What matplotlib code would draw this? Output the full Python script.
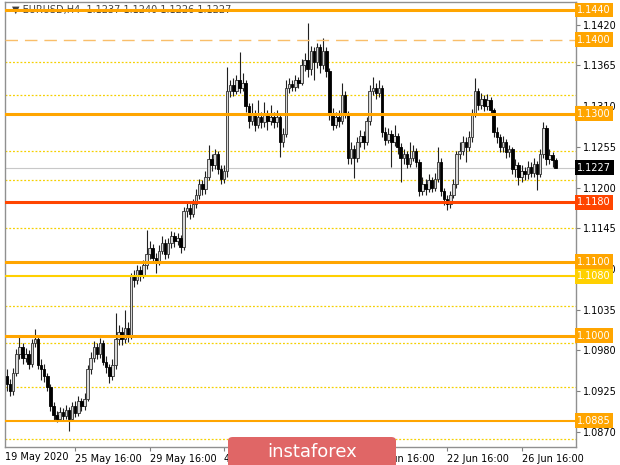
import numpy as np
import matplotlib.pyplot as plt
from matplotlib.patches import FancyBboxPatch

# EURUSD H4 candles
closes = [
    1.0935, 1.0925, 1.0950, 1.0975, 1.0985, 1.0970, 1.0975, 1.0962, 1.0990, 1.0995,
    1.0960, 1.0955, 1.0945, 1.0930, 1.0905, 1.0893, 1.0888, 1.0897, 1.0892, 1.0900,
    1.0888, 1.0905, 1.0895, 1.0912, 1.0905, 1.0915, 1.0955, 1.0970, 1.0985, 1.0975,
    1.0990, 1.0965, 1.0958, 1.0945, 1.0960, 1.0995, 1.1005, 1.0995, 1.1010, 1.1000,
    1.1080, 1.1075, 1.1088, 1.1082, 1.1095, 1.1110, 1.1118, 1.1105, 1.1100, 1.1115,
    1.1125, 1.1110, 1.1125, 1.1135, 1.1128, 1.1132, 1.1120, 1.1168, 1.1172, 1.1165,
    1.1178, 1.1190, 1.1205, 1.1198, 1.1215, 1.1238, 1.1230, 1.1245, 1.1225, 1.1212,
    1.1222, 1.1330, 1.1338, 1.1330, 1.1345, 1.1335, 1.1342, 1.1310, 1.1290, 1.1300,
    1.1285, 1.1295, 1.1288, 1.1298, 1.1290, 1.1296, 1.1288, 1.1295, 1.1262, 1.1272,
    1.1335, 1.1340, 1.1336, 1.1345, 1.1342, 1.1365, 1.1372, 1.1360, 1.1385, 1.1370,
    1.1390, 1.1365, 1.1385, 1.1358, 1.1300, 1.1285, 1.1295, 1.1290, 1.1325, 1.1300,
    1.1240, 1.1252, 1.1240, 1.1262, 1.1270, 1.1262, 1.1290, 1.1330, 1.1335, 1.1328,
    1.1335, 1.1275, 1.1265, 1.1272, 1.1262, 1.1270, 1.1255, 1.1240, 1.1245, 1.1232,
    1.1240, 1.1250, 1.1235, 1.1195, 1.1205, 1.1198, 1.1210, 1.1200, 1.1212, 1.1235,
    1.1195, 1.1185, 1.1178, 1.1190, 1.1205, 1.1245, 1.1250, 1.1262, 1.1255, 1.1268,
    1.1300, 1.1330, 1.1312, 1.1320, 1.1310, 1.1318, 1.1305, 1.1275, 1.1268, 1.1255,
    1.1262, 1.1248, 1.1252, 1.1225, 1.1230, 1.1215, 1.1222, 1.1218, 1.1228, 1.1220,
    1.1232, 1.1218, 1.1245, 1.1280, 1.1238, 1.1244, 1.1237, 1.1227]
opens = [1.0945] + closes[:-1]
highs = [
    1.0955, 1.0942, 1.0956, 1.0982, 1.0998, 1.0990, 1.0983, 1.0980, 1.0996, 1.1009,
    1.0999, 1.0968, 1.0962, 1.0950, 1.0934, 1.0910, 1.0898, 1.0904, 1.0902, 1.0906,
    1.0904, 1.0910, 1.0912, 1.0918, 1.0916, 1.0922, 1.0960, 1.0978, 1.0993, 1.0990,
    1.0997, 1.0994, 1.0972, 1.0962, 1.0968, 1.1031, 1.1015, 1.1012, 1.1035, 1.1018,
    1.1085, 1.1088, 1.1095, 1.1094, 1.1102, 1.1143, 1.1128, 1.1124, 1.1112, 1.1122,
    1.1134, 1.1130, 1.1132, 1.1142, 1.1140, 1.1138, 1.1136, 1.1174, 1.1180, 1.1178,
    1.1184, 1.1198, 1.1212, 1.1210, 1.1222, 1.1258, 1.1245, 1.1252, 1.1250, 1.1230,
    1.1230, 1.1363, 1.1345, 1.1348, 1.1352, 1.1383, 1.1355, 1.1346, 1.1314, 1.1315,
    1.1305, 1.1318, 1.1302, 1.1316, 1.1305, 1.1312, 1.1302, 1.1305, 1.1300, 1.1280,
    1.1345, 1.1348, 1.1346, 1.1352, 1.1350, 1.1374, 1.1382, 1.1422, 1.1392, 1.1390,
    1.1396, 1.1394, 1.1402, 1.1390, 1.1362, 1.1308, 1.1302, 1.1305, 1.1341, 1.1330,
    1.1304, 1.1262, 1.1258, 1.1268, 1.1278, 1.1276, 1.1296, 1.1338, 1.1350, 1.1342,
    1.1345, 1.1338, 1.1282, 1.1280, 1.1278, 1.1284, 1.1274, 1.1260, 1.1252, 1.1250,
    1.1262, 1.1258, 1.1254, 1.1238, 1.1214, 1.1212, 1.1218, 1.1215, 1.1220, 1.1255,
    1.1240, 1.1200, 1.1190, 1.1196, 1.1212, 1.1250, 1.1262, 1.1270, 1.1268, 1.1276,
    1.1306, 1.1348, 1.1335, 1.1328, 1.1325, 1.1326, 1.1322, 1.1308, 1.1282, 1.1272,
    1.1270, 1.1266, 1.1258, 1.1255, 1.1238, 1.1234, 1.1230, 1.1228, 1.1236, 1.1234,
    1.1240, 1.1236, 1.1252, 1.1288, 1.1284, 1.1252, 1.1248, 1.1240]
lows = [
    1.0925, 1.0918, 1.0920, 1.0945, 1.0968, 1.0962, 1.0964, 1.0955, 1.0958, 1.0985,
    1.0955, 1.0940, 1.0938, 1.0925, 1.0898, 1.0886, 1.0883, 1.0884, 1.0886, 1.0887,
    1.0871, 1.0884, 1.0890, 1.0892, 1.0898, 1.0900, 1.0912, 1.0948, 1.0965, 1.0968,
    1.0970, 1.0960, 1.0950, 1.0936, 1.0940, 1.0955, 1.0988, 1.0988, 1.0990, 1.0992,
    1.0996, 1.1066, 1.1070, 1.1074, 1.1078, 1.1090, 1.1104, 1.1098, 1.1085, 1.1095,
    1.1110, 1.1104, 1.1105, 1.1118, 1.1120, 1.1122, 1.1112, 1.1116, 1.1160, 1.1158,
    1.1160, 1.1172, 1.1185, 1.1190, 1.1192, 1.1210, 1.1222, 1.1225, 1.1218, 1.1205,
    1.1206, 1.1215, 1.1322, 1.1324, 1.1326, 1.1328, 1.1330, 1.1302, 1.1280, 1.1284,
    1.1276, 1.1280, 1.1280, 1.1282, 1.1278, 1.1284, 1.1280, 1.1282, 1.1241, 1.1255,
    1.1268, 1.1328, 1.1330, 1.1330, 1.1335, 1.1338, 1.1358, 1.1350, 1.1352, 1.1345,
    1.1362, 1.1355, 1.1360, 1.1350, 1.1292, 1.1278, 1.1280, 1.1282, 1.1286, 1.1294,
    1.1232, 1.1232, 1.1213, 1.1235, 1.1255, 1.1252, 1.1258, 1.1285, 1.1325, 1.1320,
    1.1322, 1.1268, 1.1258, 1.1260, 1.1228, 1.1256, 1.1246, 1.1208, 1.1232, 1.1226,
    1.1228, 1.1236, 1.1228, 1.1188, 1.1190, 1.1190, 1.1194, 1.1194, 1.1196, 1.1208,
    1.1188, 1.1176, 1.1170, 1.1172, 1.1186, 1.1200, 1.1238, 1.1244, 1.1235, 1.1250,
    1.1262, 1.1295, 1.1305, 1.1306, 1.1303, 1.1305, 1.1298, 1.1268, 1.1260, 1.1248,
    1.1248, 1.1240, 1.1242, 1.1218, 1.1215, 1.1203, 1.1208, 1.1210, 1.1212, 1.1214,
    1.1215, 1.1197, 1.1214, 1.1240, 1.1230, 1.1232, 1.1228, 1.1226]

tick_pos = [22, 46, 70, 94, 118, 142, 166]
tick_txt = ['25 May 16:00', '29 May 16:00', '4 Jun 16:00', '10 Jun 16:00',
            '16 Jun 16:00', '22 Jun 16:00', '26 Jun 16:00']
price_ticks = [1.1420, 1.1365, 1.1310, 1.1255, 1.1200, 1.1145, 1.1090,
               1.1035, 1.0980, 1.0925, 1.0870]

# horizontal levels: price, colour, width, style
levels = [(1.1440, '#FFA500', 2.2, '-'), (1.1400, '#F9BE6A', 1.0, (0, (9, 5))),
          (1.1300, '#FFA500', 2.2, '-'), (1.1180, '#FF4500', 2.2, '-'),
          (1.1100, '#FFA500', 2.2, '-'), (1.1080, '#FFD000', 1.5, '-'),
          (1.1000, '#FFA500', 2.2, '-'), (1.0885, '#FFA500', 1.5, '-')]
tag_colors = {1.1440: '#FFA500', 1.1400: '#FFA500', 1.1300: '#FFA500', 1.1180: '#FF4500',
              1.1100: '#FFA500', 1.1080: '#FFD000', 1.1000: '#FFA500', 1.0885: '#FFA500'}
dotted = [1.1370, 1.1325, 1.1250, 1.1210, 1.1145, 1.1040, 1.0990, 1.0930, 1.0860]
last_price = 1.1227

o = np.array(opens); c = np.array(closes); h = np.array(highs); l = np.array(lows)
x = np.arange(len(c))

fig = plt.figure(figsize=(6.2, 4.65), dpi=100)
ax = fig.add_axes([5 / 620, 18 / 465, 571 / 620, 445 / 465])
ax.set_xlim(-0.65, 183.55)
ax.set_ylim(1.08495, 1.14508)

for p in dotted:
    ax.axhline(p, color='#F5D000', lw=0.9, ls=(0, (1.5, 1.5)), zorder=1)
ax.axhline(last_price, color='#C8C8C8', lw=0.8, zorder=1)

up = c >= o
ax.vlines(x, l, h, color='#202020', lw=0.8, zorder=3)
body_lo = np.minimum(o, c)
body_h = np.maximum(np.abs(c - o), 0.00008)
ax.bar(x[up], body_h[up], bottom=body_lo[up], width=0.8, color='#D8D8D8',
       edgecolor='#303030', lw=0.6, zorder=4)
ax.bar(x[~up], body_h[~up], bottom=body_lo[~up], width=0.8, color='black',
       edgecolor='black', lw=0.6, zorder=4)

ax.text(0.012, 1.1440, '\u25bc EURUSD,H4  1.1237 1.1240 1.1226 1.1227',
        transform=ax.get_yaxis_transform(), fontsize=7, color='#404040',
        va='center', ha='left', zorder=2)

for p, col, lw, ls in levels:
    ax.axhline(p, color=col, lw=lw, ls=ls, zorder=5)

ytr = ax.get_yaxis_transform()
for p, col in tag_colors.items():
    ax.text(1.002, p, f'{p:.4f}', transform=ytr, ha='left', va='center',
            fontsize=7, color='white', zorder=10, clip_on=False,
            bbox=dict(boxstyle='square,pad=0.25', fc=col, ec='none'))
ax.text(1.002, last_price, f'{last_price:.4f}', transform=ytr, ha='left', va='center',
        fontsize=7, color='white', zorder=10, clip_on=False,
        bbox=dict(boxstyle='square,pad=0.25', fc='black', ec='none'))

ax.yaxis.tick_right()
ax.set_yticks(price_ticks)
ax.set_yticklabels([f'{p:.4f}' for p in price_ticks])
ax.tick_params(axis='y', labelsize=7, length=3, pad=2, color='#808080')
ax.set_xticks(tick_pos)
ax.set_xticklabels(tick_txt, ha='left')
ax.tick_params(axis='x', labelsize=7, length=3, pad=2, color='#808080')
ax.text(0.0, -0.012, '19 May 2020', transform=ax.transAxes, fontsize=7,
        ha='left', va='top')
for s in ax.spines.values():
    s.set_color('#909090')
    s.set_linewidth(1.0)

# watermark, drawn over everything
wm = FancyBboxPatch((228 / 620, -0.02), 168 / 620, 28 / 465 + 0.02,
                    boxstyle='round,pad=0,rounding_size=0.008',
                    transform=fig.transFigure, fc='#E06666', ec='none', zorder=50)
fig.add_artist(wm)
fig.text(312 / 620, 13 / 465, 'instaforex', color='white', fontsize=13,
         ha='center', va='center', zorder=51)

fig.savefig('out.png', dpi=100)
